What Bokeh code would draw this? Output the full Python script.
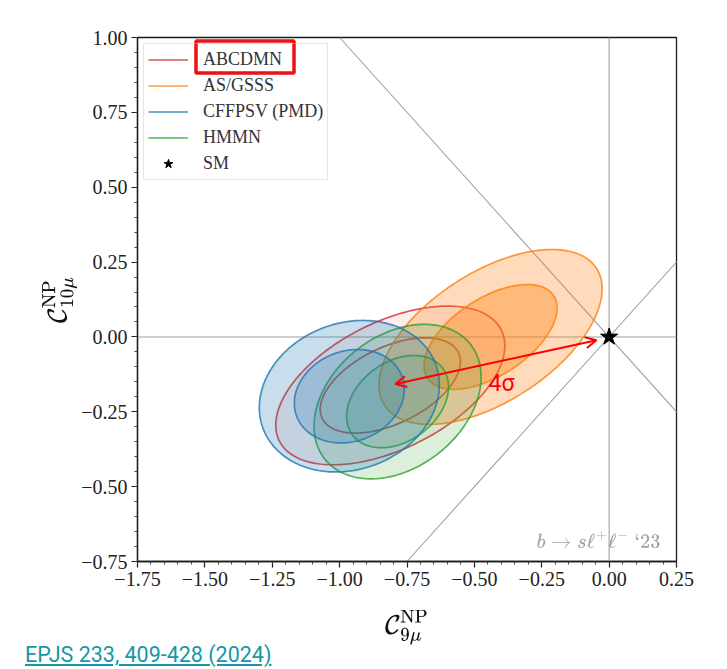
import numpy as np
from bokeh.plotting import figure
from bokeh.models import (Label, Span, Slope, Legend, LegendItem, FixedTicker,
                          Arrow, OpenHead, BoxAnnotation, Spacer, Div, TeX)
from bokeh.layouts import column, row
from bokeh.embed import file_html
from bokeh.resources import INLINE

# ---------------- data ----------------
x_ticks = [-1.75, -1.5, -1.25, -1.0, -0.75, -0.5, -0.25, 0.0, 0.25]
x_tick_labels = ["\u22121.75", "\u22121.50", "\u22121.25", "\u22121.00", "\u22120.75",
                 "\u22120.50", "\u22120.25", "0.00", "0.25"]
y_ticks = [-0.75, -0.5, -0.25, 0.0, 0.25, 0.5, 0.75, 1.0]
y_tick_labels = ["\u22120.75", "\u22120.50", "\u22120.25", "0.00", "0.25", "0.50", "0.75", "1.00"]

fits = ["ABCDMN", "AS/GSSS", "CFFPSV (PMD)", "HMMN"]
fit_colors = ["#d62728", "#ff7f0e", "#1f77b4", "#2ca02c"]
draw_order = [0, 1, 3, 2]
# best-fit centre, 1 sigma and 2 sigma half-extents and correlation of each fit
center_x = [-0.812, -0.440, -0.964, -0.785]
center_y = [-0.162, 0.000, -0.198, -0.216]
half_x_1s = [0.260, 0.247, 0.204, 0.189]
half_y_1s = [0.159, 0.175, 0.156, 0.154]
half_x_2s = [0.425, 0.414, 0.334, 0.310]
half_y_2s = [0.265, 0.292, 0.253, 0.258]
corr = [0.50, 0.55, 0.15, 0.32]
fill_alpha_2s = [0.08, 0.28, 0.24, 0.17]
fill_alpha_1s = [0.10, 0.55, 0.42, 0.28]

sm_x = [0.0]
sm_y = [0.0]

arrow_from = (-0.793, -0.157)
arrow_to = (-0.047, -0.011)
sigma_label = "4\u03c3"
sigma_pos = (-0.399, -0.154)

# ---------------- figure ----------------
p = figure(width=719, height=643, x_range=(-1.75, 0.25), y_range=(-0.75, 1.0),
           output_backend="svg", toolbar_location=None,
           min_border_left=129, min_border_right=51, min_border_top=32, min_border_bottom=87)
p.border_fill_color = "white"
p.background_fill_color = "white"
p.xgrid.visible = False
p.ygrid.visible = False
p.outline_line_color = "#1a1a1a"
p.outline_line_width = 1.3
p.outline_line_alpha = 1.0

minor_x = np.round(np.arange(-1.75, 0.25 + 1e-9, 0.05), 2).tolist()
minor_y = np.round(np.arange(-0.75, 1.0 + 1e-9, 0.05), 2).tolist()
p.xaxis.ticker = FixedTicker(ticks=x_ticks, minor_ticks=minor_x)
p.yaxis.ticker = FixedTicker(ticks=y_ticks, minor_ticks=minor_y)
p.xaxis.major_label_overrides = dict(zip(x_ticks, x_tick_labels))
p.yaxis.major_label_overrides = dict(zip(y_ticks, y_tick_labels))
p.xaxis.axis_label = TeX(text=r"\mathcal{C}^{\mathrm{NP}}_{9\mu}")
p.yaxis.axis_label = TeX(text=r"\mathcal{C}^{\mathrm{NP}}_{10\mu}")
p.xaxis.axis_label_standoff = 21
p.yaxis.axis_label_standoff = 1
for ax in (p.xaxis[0], p.yaxis[0]):
    ax.major_label_text_font = "Liberation Serif"
    ax.major_label_text_font_size = "20px"
    ax.major_label_text_color = "#222222"
    ax.axis_label_text_font_size = "22px"
    ax.axis_label_text_color = "#111111"
    ax.major_tick_out = 6
    ax.major_tick_in = 0
    ax.minor_tick_out = 3
    ax.minor_tick_in = 0
    ax.axis_line_color = "#1a1a1a"
    ax.axis_line_width = 1.3
    ax.major_tick_line_color = "#1a1a1a"
    ax.major_tick_line_width = 1.2
    ax.minor_tick_line_color = "#333333"
    ax.minor_tick_line_width = 0.9
    ax.major_label_standoff = 4

# reference lines through the SM point
for ann in (Span(location=0, dimension="width"), Span(location=0, dimension="height"),
            Slope(gradient=1, y_intercept=0), Slope(gradient=-1, y_intercept=0)):
    ann.line_color = "#a0a0a0"
    ann.line_width = 1.1
    ann.level = "underlay"
    p.add_layout(ann)

# contours: 2 sigma band (ring) and 1 sigma core
t = np.linspace(0, 2 * np.pi, 240)
legend_renderers = {}
for i in draw_order:
    r = corr[i]
    def ell(hx, hy):
        xs = center_x[i] + hx * np.cos(t)
        ys = center_y[i] + hy * (r * np.cos(t) + np.sqrt(1 - r * r) * np.sin(t))
        return list(xs), list(ys)
    x2, y2 = ell(half_x_2s[i], half_y_2s[i])
    x1, y1 = ell(half_x_1s[i], half_y_1s[i])
    c = fit_colors[i]
    p.multi_polygons(xs=[[[x2, x1[::-1]]]], ys=[[[y2, y1[::-1]]]],
                     fill_color=c, fill_alpha=fill_alpha_2s[i], line_color=None)
    p.patch(x1, y1, fill_color=c, fill_alpha=fill_alpha_1s[i], line_color=None)
    rl = p.multi_line([x2, x1], [y2, y1], line_color=c, line_alpha=0.8, line_width=1.7)
    legend_renderers[i] = rl

items = [LegendItem(label=fits[i], renderers=[legend_renderers[i]]) for i in range(len(fits))]
sm = p.scatter(sm_x, sm_y, marker="star", size=18, color="black")
items.append(LegendItem(label="SM", renderers=[sm]))

legend = Legend(items=items, location="top_left")
legend.label_text_font = "Liberation Serif"
legend.label_text_font_size = "18px"
legend.label_text_color = "#333333"
legend.glyph_width = 40
legend.glyph_height = 23
legend.label_height = 23
legend.label_standoff = 15
legend.spacing = 3
legend.padding = 4
legend.margin = 6
legend.border_line_color = "#cccccc"
legend.border_line_width = 1
legend.background_fill_alpha = 0.0
p.add_layout(legend)

# highlight box around the first legend entry
box = BoxAnnotation(left=58.5, right=156.5, top=520.5, bottom=488.5,
                    left_units="screen", right_units="screen",
                    top_units="screen", bottom_units="screen",
                    fill_alpha=0, line_color="#ee1111", line_alpha=1.0, line_width=3.5)
box.level = "overlay"
p.add_layout(box)

# 4 sigma arrow
p.add_layout(Arrow(start=OpenHead(size=11, line_color="red", line_width=2),
                   end=OpenHead(size=11, line_color="red", line_width=2),
                   x_start=arrow_from[0], y_start=arrow_from[1],
                   x_end=arrow_to[0], y_end=arrow_to[1],
                   line_color="red", line_width=2))
p.add_layout(Label(x=sigma_pos[0], y=sigma_pos[1], text=sigma_label, text_color="red",
                   text_font="Roboto", text_font_size="23px",
                   text_align="center", text_baseline="middle"))

# process tag
p.add_layout(Label(x=523, y=21, x_units="screen", y_units="screen",
                   text=TeX(text=r"b \to s\ell^+\ell^- \ \text{`23}"), text_color="#a0a0a0",
                   text_font_size="17px", text_align="right", text_baseline="middle"))

# source link
link = Div(width=719, height=21,
           text='<div style="position:relative;top:-9px;padding-left:12px;font-family:Roboto;'
                'font-size:21.5px;line-height:21px;color:#1597a5;text-decoration:underline;'
                'white-space:nowrap;">EPJS 233, 409-428 (2024)</div>',
           styles={"background-color": "white", "overflow": "visible"})

layout = column(Spacer(width=727, height=5),
                row(Spacer(width=8, height=664), column(p, link)))

html = file_html(layout, INLINE)
html = html.replace("<body>", '<body style="margin:0;background-color:#efebe4;">', 1)
open("out.html", "w").write(html)
